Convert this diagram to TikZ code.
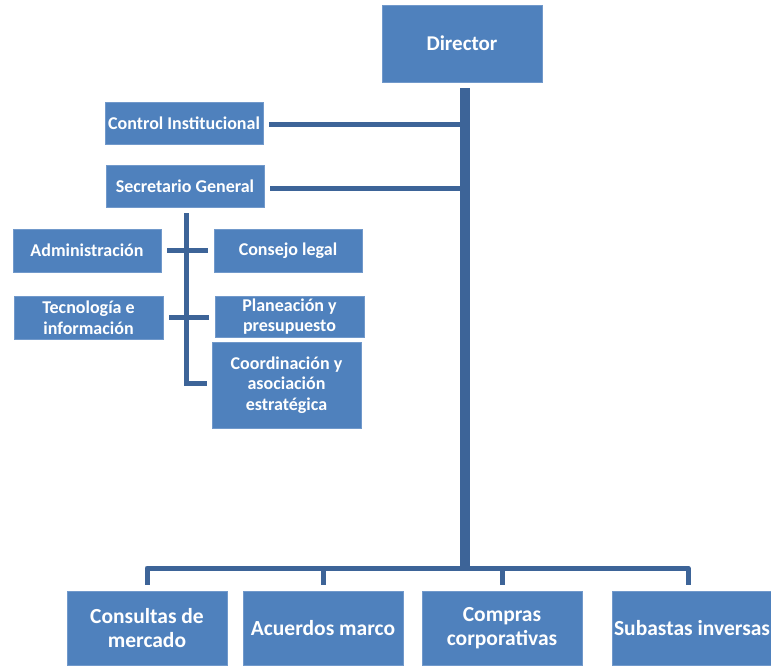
\documentclass[tikz,border=0pt]{standalone}
\usepackage{fontspec}
\setmainfont{Carlito}
\begin{document}
\begin{tikzpicture}[x=1pt,y=-1pt,
  unit/.style={draw=boxedge,line width=0.6pt,fill=boxfill,text=white,
    font=\bfseries\fontsize{18}{20.5}\selectfont,align=center,
    inner sep=0pt,anchor=center},
  bigunit/.style={unit,font=\bfseries\fontsize{21.5}{24.5}\selectfont},
  conn/.style={draw=linecol,line width=5pt},
  trunkline/.style={draw=linecol,line width=10pt}]
\definecolor{boxfill}{HTML}{4F81BD}
\definecolor{boxedge}{HTML}{7199CB}
\definecolor{linecol}{HTML}{3D6498}
\useasboundingbox (0,0) rectangle (771,665);

% top levels
\node[unit,minimum width=160pt,minimum height=77pt,font=\bfseries\fontsize{21}{24}\selectfont] (dir) at (462,43.5) {Director};
\node[unit,minimum width=158pt,minimum height=42pt] (ctrl) at (184,123) {Control Institucional};
\node[unit,minimum width=158pt,minimum height=42pt] (sec) at (185,186) {Secretario General};

% units under the secretary
\node[unit,minimum width=148pt,minimum height=43pt] (adm) at (87,250.5) {Administración};
\node[unit,minimum width=148pt,minimum height=43pt] (leg) at (288,250.5) {Consejo legal};
\node[unit,minimum width=149pt,minimum height=43pt] (tec) at (88.5,317.5) {Tecnología e\\información};
\node[unit,minimum width=149pt,minimum height=41pt] (pla) at (289.5,316.5) {Planeación y\\presupuesto};
\node[unit,minimum width=149pt,minimum height=86pt] (coo) at (286.5,385) {Coordinación y\\asociación\\estratégica};

% operating areas
\node[bigunit,minimum width=160pt,minimum height=74pt] (con) at (147,628) {Consultas de\\mercado};
\node[bigunit,minimum width=160pt,minimum height=74pt] (acu) at (323,628) {Acuerdos marco};
\node[bigunit,minimum width=160pt,minimum height=74pt] (com) at (502,628) {Compras\\corporativas};
\node[bigunit,minimum width=160pt,minimum height=74pt] (sub) at (692,628) {Subastas inversas};

% main trunk
\coordinate (trunktop) at (465,88);
\coordinate (bus) at (465,568);
\draw[trunkline] (trunktop) -- ([yshift=2.5pt]bus);

% side staff branches
\draw[conn,shorten <=6pt] ([yshift=-1pt]ctrl.east) -- (trunktop |- 0,124);
\draw[conn,shorten <=6pt] ([yshift=-2pt]sec.east) -- (trunktop |- 0,188);

% secretary sub-tree
\draw[conn] ([xshift=1pt,yshift=-6pt]sec.south) |- ([xshift=-5pt,yshift=2pt]coo.west);
\draw[conn,shorten <=6pt,shorten >=6pt] (adm.east) -- (leg.west);
\draw[conn,shorten <=6pt] (tec.east) -- ([xshift=-6pt]tec.east -| pla.west);

% bus to operating areas
\draw[conn,line join=round] ([yshift=6pt]con.north) |- (bus) -| ([xshift=-4pt,yshift=6pt]sub.north);
\draw[conn] ([yshift=6pt]acu.north) -- (acu.north |- bus);
\draw[conn] ([yshift=6pt]com.north) -- (com.north |- bus);
\end{tikzpicture}
\end{document}
